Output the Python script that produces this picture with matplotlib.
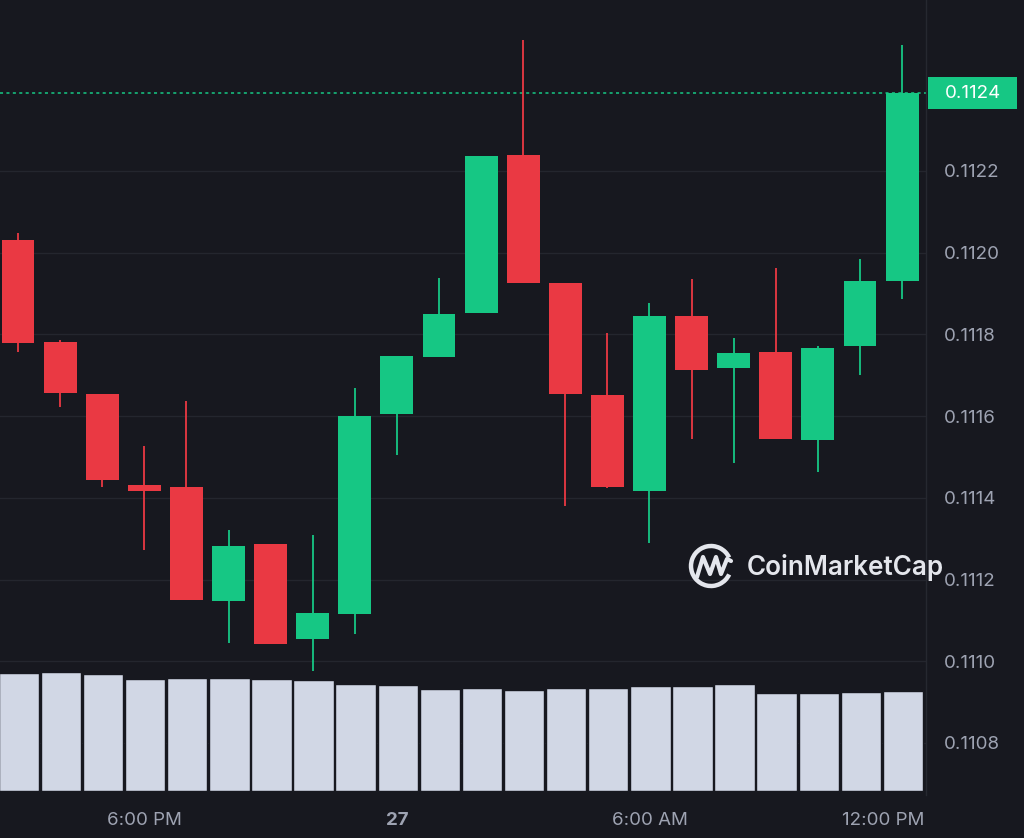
import numpy as np
import matplotlib.pyplot as plt
from matplotlib.patches import Arc, Rectangle
from matplotlib.transforms import blended_transform_factory, ScaledTranslation

plt.rcParams['font.family'] = ['Inter', 'DejaVu Sans']

# hourly candles, 26th 3:00 PM .. 27th 12:00 PM
opens = [0.112031, 0.111782, 0.111654, 0.111432, 0.111427, 0.111148, 0.111287, 0.111055,
         0.111116, 0.111605, 0.111745, 0.111853, 0.112239, 0.111926, 0.111652, 0.111417,
         0.111845, 0.111718, 0.111757, 0.111542, 0.111772, 0.111931]
highs = [0.112048, 0.111786, 0.111654, 0.111527, 0.111637, 0.111321, 0.111287, 0.111309,
         0.111669, 0.111747, 0.111938, 0.112237, 0.112521, 0.111926, 0.111804, 0.111877,
         0.111936, 0.111791, 0.111963, 0.111772, 0.111985, 0.112508]
lows = [0.111757, 0.111622, 0.111427, 0.111272, 0.111150, 0.111045, 0.111042, 0.110976,
        0.111067, 0.111505, 0.111745, 0.111853, 0.111926, 0.111380, 0.111424, 0.111290,
        0.111544, 0.111485, 0.111544, 0.111463, 0.111701, 0.111887]
closes = [0.111779, 0.111657, 0.111444, 0.111417, 0.111150, 0.111282, 0.111042, 0.111118,
          0.111600, 0.111747, 0.111850, 0.112237, 0.111926, 0.111654, 0.111427, 0.111845,
          0.111713, 0.111755, 0.111544, 0.111767, 0.111931, 0.112391]
volumes = [11.8, 11.9, 11.7, 11.2, 11.3, 11.3, 11.2, 11.1, 10.7, 10.6, 10.2,
           10.3, 10.1, 10.3, 10.3, 10.5, 10.5, 10.7, 9.8, 9.8, 9.9, 10.0]

price_ticks = [0.1108, 0.1110, 0.1112, 0.1114, 0.1116, 0.1118, 0.1120, 0.1122]
time_ticks = [3, 9, 15, 21]
time_labels = ["6:00 PM", "27", "6:00 AM", "12:00 PM"]

bg = '#17181f'
green = '#16c784'
red = '#ea3943'
grid_c = '#24262e'
txt_c = '#9ea3b2'

o = np.array(opens)
c = np.array(closes)
h = np.array(highs)
l = np.array(lows)
x = np.arange(len(o))
up = c >= o
cols = np.where(up, green, red)

fig = plt.figure(figsize=(10.24, 8.38), dpi=100, facecolor=bg)
rect = [0, 1 - 795 / 838, 926 / 1024, 795 / 838]
ax = fig.add_axes(rect, facecolor=bg, zorder=1)
axv = fig.add_axes(rect, facecolor='none', zorder=2)

# price grid
for t in price_ticks:
    ax.axhline(t, color=grid_c, lw=1, zorder=0)

# candles
ax.vlines(x, l, h, colors=cols, lw=1.3, zorder=2)
body = np.maximum(np.abs(c - o), 0.000004)
ax.bar(x, body, bottom=np.minimum(o, c), width=0.78, color=cols, zorder=3)

ax.set_xlim(-0.428, 21.568)
ax.set_ylim(0.1106727, 0.1126185)

# last price line + tag
last = closes[-1]
ax.axhline(last, color=green, lw=1.1, ls=(0, (2, 2.2)), zorder=1)
tr = blended_transform_factory(ax.transAxes, ax.transData)
px = (ax.get_ylim()[1] - ax.get_ylim()[0]) / 795
ax.add_patch(Rectangle((1.0 + 2 / 926, last - 16.5 * px), 89 / 926, 32 * px, transform=tr,
                       fc=green, ec='none', clip_on=False, zorder=4))
ax.text(1.0 + 46.5 / 926, last - 0.5 * px, f"{last:.4f}", transform=tr, ha='center', va='center',
        color='white', fontsize=13.5, clip_on=False, zorder=5)

ax.yaxis.tick_right()
ax.set_yticks(price_ticks)
ax.set_yticklabels([f"{t:.4f}" for t in price_ticks])
ax.tick_params(axis='y', length=0, pad=13, labelcolor=txt_c, labelsize=13.5)
ax.set_xticks(time_ticks)
ax.set_xticklabels(time_labels)
ax.tick_params(axis='x', length=0, pad=12, labelcolor=txt_c, labelsize=13.5)
xl = ax.get_xticklabels()
xl[1].set_fontweight('bold')
xl[-1].set_transform(xl[-1].get_transform() + ScaledTranslation(-19 / 100, 0, fig.dpi_scale_trans))
for s in ['top', 'left', 'bottom']:
    ax.spines[s].set_visible(False)
ax.spines['right'].set_color('#262830')
ax.spines['right'].set_linewidth(1)

# volume
axv.bar(x + 0.02, volumes, width=0.96, color='#d1d7e5', edgecolor=bg, lw=1)
axv.set_xlim(ax.get_xlim())
axv.set_ylim(-0.4, 79.1)
axv.axis('off')

# watermark
wm = fig.add_axes([0, 0, 1, 1], facecolor='none', zorder=5)
wm.set_xlim(0, 1024)
wm.set_ylim(838, 0)
wm.axis('off')
wm_c = '#e4e6ec'
wm.add_patch(Arc((711, 566), 40, 40, theta1=25, theta2=335, color=wm_c, lw=3.2))
wm.plot([697, 703, 710, 716, 721, 727, 731], [577, 557, 574, 557, 574, 559, 561],
        color=wm_c, lw=3.0, solid_joinstyle='round', solid_capstyle='round')
wm.text(747, 567, "CoinMarketCap", color=wm_c, fontsize=18.8, fontweight='semibold',
        ha='left', va='center')

fig.savefig("out.png", dpi=100, facecolor=bg)
